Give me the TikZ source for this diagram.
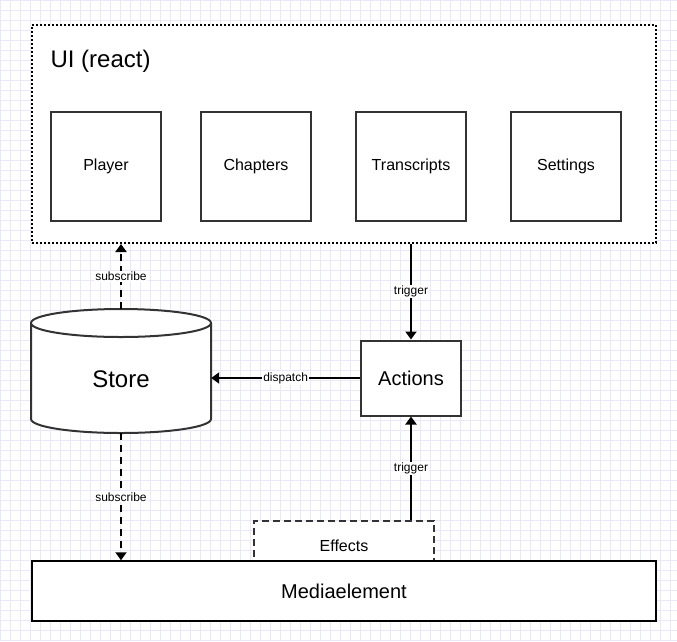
\documentclass[tikz,border=0pt]{standalone}
\usepackage{fontspec}
\setmainfont{Liberation Sans}
\usetikzlibrary{arrows.meta}
\definecolor{gridcol}{RGB}{232,232,248}
\definecolor{boxline}{RGB}{51,51,51}
\tikzset{
  comp/.style={draw=boxline, line width=2pt, fill=white, minimum width=110pt, minimum height=109pt, font=\fontsize{16}{19}\selectfont},
  lbl/.style={fill=white, inner sep=1pt, font=\fontsize{12}{14}\selectfont},
  conn/.style={line width=2pt, -{Triangle[length=8pt,width=11pt]}},
}
\begin{document}
\begin{tikzpicture}[x=1pt,y=-1pt]
    \useasboundingbox (0,0) rectangle (677,641);
    \draw[gridcol, step=10pt] (0,0) grid (677,641);
    \node[draw, dotted, line width=2pt, fill=white, minimum width=624pt, minimum height=218pt] (ui) at (344,134) {};
    \node[anchor=west, font=\fontsize{24}{28}\selectfont] (uilabel) at (47,61) {UI (react)};
    \node[comp] (player) at (106,166) {Player};
    \node[comp] (chapters) at (256,166) {Chapters};
    \node[comp] (transcripts) at (411,166) {Transcripts};
    \node[comp] (settings) at (566,166) {Settings};
    \node[minimum width=180pt, minimum height=124pt] (store) at (121,371) {};
    \filldraw[draw=boxline, fill=white, line width=2pt] (31,323) -- (31,419) arc (180:0:90 and 14) -- (211,323);
    \filldraw[draw=boxline, fill=white, line width=2pt] (121,323) ellipse (90 and 14);
    \node[font=\fontsize{24}{28}\selectfont] (storelabel) at (121,379) {Store};
    \node[draw=boxline, line width=2pt, fill=white, minimum width=100pt, minimum height=75pt, font=\fontsize{20}{24}\selectfont] (actions) at (411,378) {Actions};
    \node[draw=boxline, dashed, dash pattern=on 7pt off 4pt, line width=2pt, fill=white, minimum width=180pt, minimum height=40pt, anchor=north] (effects) at (344,520) {};
    \node[font=\fontsize{16}{19}\selectfont] (efflabel) at (344,546) {Effects};
    \node[draw, line width=1.5pt, fill=white, minimum width=624pt, minimum height=60pt, font=\fontsize{20}{24}\selectfont] (media) at (344,591) {Mediaelement};
    \draw[conn, dashed, dash pattern=on 7pt off 5pt] (store.north) -- node[lbl] {subscribe} (store.north |- ui.south);
    \draw[conn] (ui.south -| actions) -- node[lbl] {trigger} (actions.north);
    \draw[conn] (actions.west) -- node[lbl] {dispatch} (store.east |- actions.west);
    \draw[conn] (effects.north -| actions) -- node[lbl] {trigger} (actions.south);
    \draw[conn, dashed, dash pattern=on 7pt off 5pt] (store.south) -- node[lbl] {subscribe} (store.south |- media.north);
\end{tikzpicture}
\end{document}
